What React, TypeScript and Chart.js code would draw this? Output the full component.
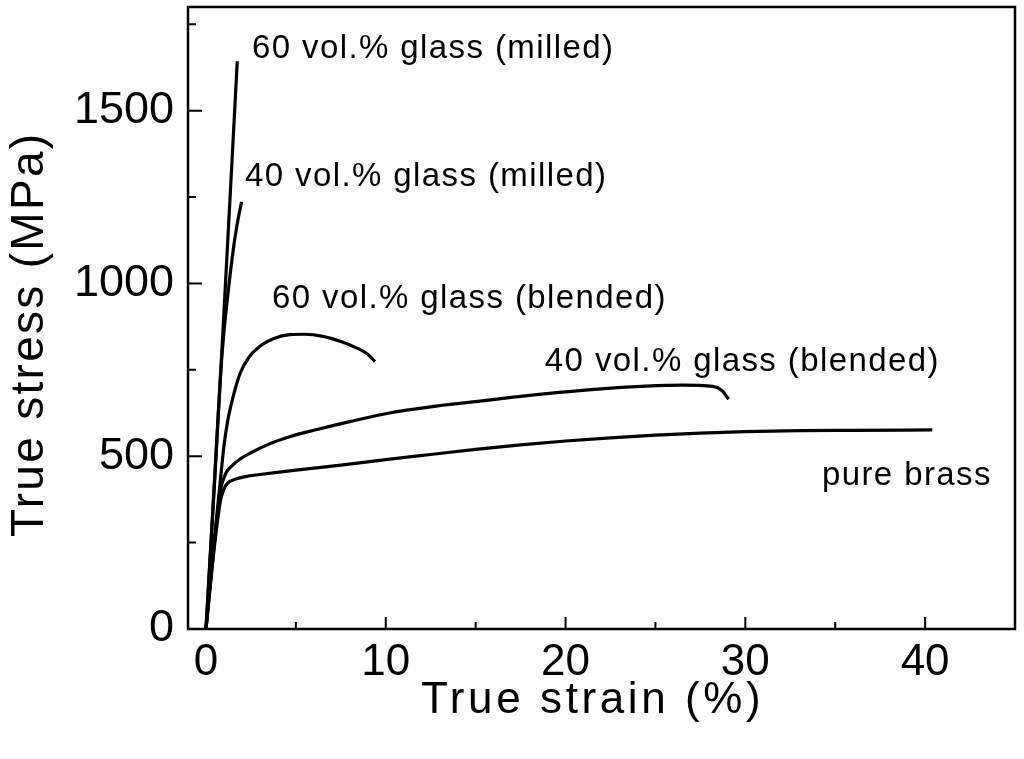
import React, { useEffect, useRef } from 'react';
import { Chart, registerables } from 'chart.js';

Chart.register(...registerables);

// true strain (%) / true stress (MPa)
const BRASS_STRAIN = [0, 0.45, 0.8, 1.0, 1.2, 1.6, 2.2, 3, 5, 7.5, 10, 12.5, 15, 17.5, 20, 22.5, 25, 27.5, 30, 33, 36, 40.4];
const BRASS_STRESS = [0, 230, 370, 405, 422, 433, 441, 447, 460, 474, 490, 505, 520, 533, 544, 553, 561, 567, 571, 574, 575, 576];

const BLEND40_STRAIN = [0, 0.45, 0.8, 1.1, 1.5, 1.9, 2.5, 3.5, 4.7, 6, 8, 10.2, 12.5, 15, 17.1, 19.5, 22, 24.5, 26.5, 28.2, 28.7, 29.07];
const BLEND40_STRESS = [0, 240, 400, 450, 475, 492, 510, 535, 557, 575, 600, 625, 643, 658, 671, 684, 695, 703, 706, 702, 690, 665];

const BLEND60_STRAIN = [0, 0.45, 0.8, 1.0, 1.2, 1.5, 1.9, 2.4, 3.0, 3.74, 4.67, 5.5, 6.5, 7.5, 8.4, 9.0, 9.4];
const BLEND60_STRESS = [0, 250, 430, 530, 600, 670, 740, 787, 818, 840, 852, 853, 847, 832, 813, 795, 774];

const MILL40_STRAIN = [0, 0.45, 0.87, 1.2, 1.55, 1.8, 1.98];
const MILL40_STRESS = [0, 400, 779, 960, 1110, 1190, 1236];

const MILL60_STRAIN = [0, 0.9, 1.74];
const MILL60_STRESS = [0, 820, 1643];

const X_MAJOR = [0, 10, 20, 30, 40];
const X_MINOR = [5, 15, 25, 35];
const Y_MAJOR = [0, 500, 1000, 1500];
const Y_MINOR = [250, 750, 1250, 1750];

// curve labels, anchored in data units (left end of baseline)
const LABEL_TEXT = [
  '60 vol.% glass (milled)',
  '40 vol.% glass (milled)',
  '60 vol.% glass (blended)',
  '40 vol.% glass (blended)',
  'pure brass',
];
const LABEL_X = [2.56, 2.17, 3.67, 18.85, 34.26];
const LABEL_Y = [1652, 1282, 929, 747, 417];

const FONT = '"Liberation Sans", Arial, Helvetica, sans-serif';

const toPoints = (xs: number[], ys: number[]) => xs.map((x, i) => ({ x, y: ys[i] }));

const framePlugin = {
  id: 'frame',
  afterDraw(chart: any) {
    const { ctx, chartArea: a } = chart;
    const sx = chart.scales.x;
    const sy = chart.scales.y;
    ctx.save();
    ctx.strokeStyle = '#000';
    ctx.lineWidth = 2;
    ctx.beginPath();
    const xTick = (v: number, len: number) => {
      const p = sx.getPixelForValue(v);
      ctx.moveTo(p, a.bottom);
      ctx.lineTo(p, a.bottom - len);
    };
    const yTick = (v: number, len: number) => {
      const p = sy.getPixelForValue(v);
      ctx.moveTo(a.left, p);
      ctx.lineTo(a.left + len, p);
    };
    X_MAJOR.forEach((v) => xTick(v, 12));
    X_MINOR.forEach((v) => xTick(v, 7));
    Y_MAJOR.forEach((v) => yTick(v, 14));
    Y_MINOR.forEach((v) => yTick(v, 8));
    ctx.stroke();

    ctx.lineWidth = 2.5;
    ctx.strokeRect(a.left, a.top, a.right - a.left, a.bottom - a.top);

    ctx.fillStyle = '#000';
    ctx.textAlign = 'left';
    ctx.textBaseline = 'alphabetic';
    ctx.font = `33px ${FONT}`;
    ctx.letterSpacing = '1.4px';
    LABEL_TEXT.forEach((t, i) => {
      ctx.fillText(t, sx.getPixelForValue(LABEL_X[i]), sy.getPixelForValue(LABEL_Y[i]));
    });

    // axis titles
    ctx.font = `44px ${FONT}`;
    ctx.letterSpacing = '3.6px';
    ctx.fillText('True strain (%)', 421, 713);

    ctx.font = `46px ${FONT}`;
    ctx.letterSpacing = '2.3px';
    ctx.translate(43, 537);
    ctx.rotate(-Math.PI / 2);
    ctx.fillText('True stress (MPa)', 0, 0);
    ctx.restore();
  },
};

export default function App() {
  const canvasRef = useRef<HTMLCanvasElement>(null);
  const chartRef = useRef<Chart | null>(null);

  useEffect(() => {
    if (!canvasRef.current) return;
    if (chartRef.current) chartRef.current.destroy();

    const line = (xs: number[], ys: number[]) => ({
      data: toPoints(xs, ys),
      borderColor: '#000',
      borderWidth: 3.2,
      pointRadius: 0,
      fill: false,
      cubicInterpolationMode: 'monotone' as const,
    });

    chartRef.current = new Chart(canvasRef.current, {
      type: 'line',
      data: {
        datasets: [
          line(BRASS_STRAIN, BRASS_STRESS),
          line(BLEND40_STRAIN, BLEND40_STRESS),
          line(BLEND60_STRAIN, BLEND60_STRESS),
          line(MILL40_STRAIN, MILL40_STRESS),
          line(MILL60_STRAIN, MILL60_STRESS),
        ],
      },
      options: {
        animation: false,
        responsive: true,
        maintainAspectRatio: false,
        layout: { padding: { top: 7, right: 9, left: 0, bottom: 0 } },
        plugins: { legend: { display: false }, tooltip: { enabled: false } },
        scales: {
          x: {
            type: 'linear',
            min: -1,
            max: 45,
            grid: { display: false, drawTicks: false },
            border: { display: false },
            afterBuildTicks: (s: any) => { s.ticks = X_MAJOR.map((value) => ({ value })); },
            afterFit: (s: any) => { s.height = 130; s.paddingLeft = 0; s.paddingRight = 0; },
            ticks: {
              color: '#000',
              padding: 7,
              font: { family: FONT, size: 44 },
              callback: (v: any) => String(v),
              autoSkip: false,
              maxRotation: 0,
            },
          },
          y: {
            type: 'linear',
            min: 0,
            max: 1800,
            grid: { display: false, drawTicks: false },
            border: { display: false },
            afterBuildTicks: (s: any) => { s.ticks = Y_MAJOR.map((value) => ({ value })); },
            afterFit: (s: any) => { s.width = 188; s.paddingTop = 0; s.paddingBottom = 0; },
            ticks: {
              color: '#000',
              padding: 14,
              font: { family: FONT, size: 45 },
              callback: (v: any) => String(v),
              autoSkip: false,
            },
          },
        },
      },
      plugins: [framePlugin],
    });

    return () => {
      if (chartRef.current) {
        chartRef.current.destroy();
        chartRef.current = null;
      }
    };
  }, []);

  return (
    <div style={{ position: 'fixed', left: 0, top: 0, width: 1024, height: 759, background: '#fff' }}>
      <canvas ref={canvasRef}></canvas>
    </div>
  );
}
